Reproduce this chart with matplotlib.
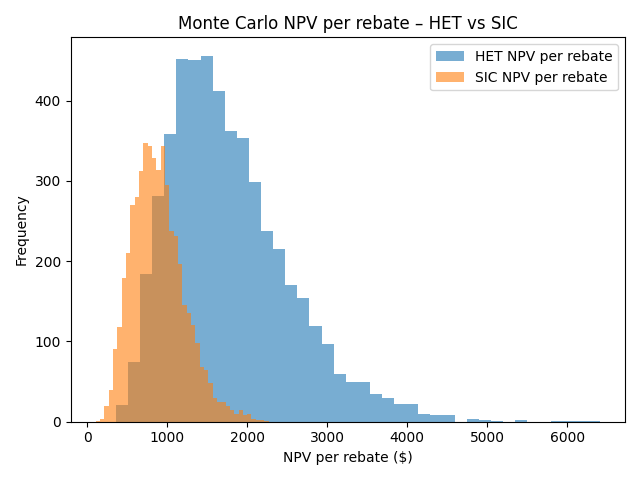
import numpy as np
import matplotlib
matplotlib.use("Agg")
import matplotlib.pyplot as plt

# Histogram counts (5000 draws each, 40 bins)
het_range = (359.0, 6409.0)
het_counts = [
    21, 75, 184, 281, 359, 452, 450, 456, 412, 362,
    354, 299, 238, 215, 170, 154, 119, 97, 59, 49,
    50, 34, 29, 22, 22, 9, 8, 8, 0, 3,
    2, 1, 0, 2, 0, 0, 1, 1, 1, 1,
]

sic_range = (109.0, 2271.0)
sic_counts = [
    1, 3, 19, 39, 90, 118, 179, 210, 270, 280,
    312, 347, 343, 329, 314, 344, 295, 238, 231, 197,
    145, 135, 120, 98, 68, 64, 48, 30, 24, 25,
    20, 14, 9, 14, 8, 9, 4, 2, 2, 1,
]

het_edges = np.linspace(het_range[0], het_range[1], len(het_counts) + 1)
sic_edges = np.linspace(sic_range[0], sic_range[1], len(sic_counts) + 1)

fig, ax = plt.subplots(figsize=(6.4, 4.8), dpi=100)

ax.hist(het_edges[:-1], bins=het_edges, weights=het_counts,
        alpha=0.6, label="HET NPV per rebate")
ax.hist(sic_edges[:-1], bins=sic_edges, weights=sic_counts,
        alpha=0.6, label="SIC NPV per rebate")

ax.set_title("Monte Carlo NPV per rebate \u2013 HET vs SIC")
ax.set_xlabel("NPV per rebate ($)")
ax.set_ylabel("Frequency")
ax.legend()

plt.tight_layout()
plt.savefig("out.png", dpi=100)
plt.close()
